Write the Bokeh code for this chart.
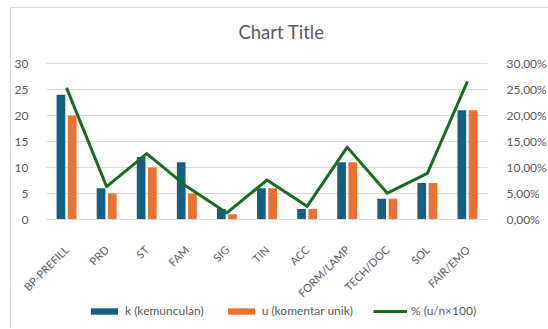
import math

from bokeh.core.properties import value
from bokeh.embed import file_html
from bokeh.models import (ColumnDataSource, CustomJSTickFormatter, FixedTicker,
                          Legend, LegendItem, LinearAxis, Range1d)
from bokeh.plotting import figure
from bokeh.resources import INLINE
from bokeh.transform import dodge

# --- data -------------------------------------------------------------------
categories = ["BP-PREFILL", "PRD", "ST", "FAM", "SIG", "TIN", "ACC",
              "FORM/LAMP", "TECH/DOC", "SOL", "FAIR/EMO"]
k_kemunculan = [24, 6, 12, 11, 2, 6, 2, 11, 4, 7, 21]
u_komentar_unik = [20, 5, 10, 5, 1, 6, 2, 11, 4, 7, 21]
persen_u_n = [25.32, 6.33, 12.66, 6.33, 1.27, 7.59, 2.53, 13.92, 5.06, 8.86, 26.58]

count_ticks = [0, 5, 10, 15, 20, 25, 30]
pct_ticks = [0, 5, 10, 15, 20, 25, 30]

title_text = "Chart Title"
legend_labels = ["k (kemunculan)", "u (komentar unik)", "% (u/n×100)"]

# --- style ------------------------------------------------------------------
FONT = "Lato"
TEXT_COLOR = "#595959"
GRID_COLOR = "#d9d9d9"
BLUE = "#156082"
ORANGE = "#E97132"
GREEN = "#196B24"

# --- geometry: the frame is the whole chart box; the plot area sits inside --
W, H = 538, 321                  # chart box size in px
AREA_L, AREA_R = 35, 476         # plot-area left/right, px from box left
AREA_T, AREA_B = 55, 211         # plot-area top/bottom, px from box top
n_cat = len(categories)
y_max = count_ticks[-1]
px_x = (AREA_R - AREA_L) / n_cat
px_y = (AREA_B - AREA_T) / y_max
x_range = Range1d(-AREA_L / px_x, (W - AREA_L) / px_x)
y_range = Range1d(-(H - AREA_B) / px_y, AREA_B / px_y)

xs = [i + 0.5 for i in range(n_cat)]
source = ColumnDataSource(dict(x=xs, cat=categories, k=k_kemunculan,
                               u=u_komentar_unik, pct=persen_u_n))

p = figure(
    x_range=x_range, y_range=y_range,
    x_axis_type=None, y_axis_type=None,
    width=W, height=H,
    margin=(7, 0, 0, 10),
    min_border=0,
    output_backend="svg", toolbar_location=None,
    background_fill_color="white", border_fill_color="white",
    styles={"border-left": "1px solid #d9d9d9",
            "border-top": "1px solid #d9d9d9"},
)
p.outline_line_color = None
p.xgrid.visible = False
p.ygrid.visible = False
p.extra_y_ranges = {"pct": Range1d(y_range.start, y_range.end)}

# horizontal gridlines across the plot area only
p.segment(x0=0, x1=n_cat, y0=count_ticks, y1=count_ticks,
          line_color=GRID_COLOR, line_width=1)

# left count axis
ya = LinearAxis(ticker=FixedTicker(ticks=count_ticks), fixed_location=0,
                bounds=(0, y_max))
ya.axis_line_color = None
ya.major_tick_line_color = None
ya.minor_tick_line_color = None
ya.major_label_standoff = 12
ya.major_label_text_color = TEXT_COLOR
ya.major_label_text_font = FONT
ya.major_label_text_font_size = "12px"
p.add_layout(ya, "left")

# right percentage axis
ra = LinearAxis(y_range_name="pct", ticker=FixedTicker(ticks=pct_ticks),
                fixed_location=n_cat, bounds=(0, y_max),
                formatter=CustomJSTickFormatter(
                    code="return tick.toFixed(2).replace('.', ',') + '%';"))
ra.axis_line_color = None
ra.major_tick_line_color = None
ra.minor_tick_line_color = None
ra.major_label_standoff = 13
ra.major_label_text_color = TEXT_COLOR
ra.major_label_text_font = FONT
ra.major_label_text_font_size = "12px"
p.add_layout(ra, "right")

# category axis
xa = LinearAxis(ticker=FixedTicker(ticks=xs), fixed_location=0,
                bounds=(0, n_cat),
                formatter=CustomJSTickFormatter(
                    args=dict(cats=categories),
                    code="return cats[Math.floor(tick)];"))
xa.axis_line_color = GRID_COLOR
xa.axis_line_width = 1
xa.major_tick_line_color = None
xa.minor_tick_line_color = None
xa.major_label_orientation = math.pi / 4
xa.major_label_standoff = 22
xa.major_label_text_color = TEXT_COLOR
xa.major_label_text_font = FONT
xa.major_label_text_font_size = "11px"
p.add_layout(xa, "below")

# bars
bar_w = 0.217
r_k = p.vbar(x=dodge("x", -0.14), top="k", width=bar_w,
             source=source, fill_color=BLUE, line_color=None)
r_u = p.vbar(x=dodge("x", 0.14), top="u", width=bar_w,
             source=source, fill_color=ORANGE, line_color=None)

# percentage line on the secondary range
r_p = p.line(x="x", y="pct", source=source, y_range_name="pct",
             line_color=GREEN, line_width=3, line_join="round")

# chart title
p.text(x=[5.86], y=[36.0], text=[title_text], text_align="center",
       text_baseline="middle", text_font=value(FONT),
       text_font_size="18.5px", text_color=TEXT_COLOR)

# legend along the bottom of the chart box
legend = Legend(
    items=[LegendItem(label=legend_labels[0], renderers=[r_k]),
           LegendItem(label=legend_labels[1], renderers=[r_u]),
           LegendItem(label=legend_labels[2], renderers=[r_p])],
    orientation="horizontal",
    location=(76, 11),
    glyph_width=34, glyph_height=8,
    label_standoff=4, spacing=20,
    padding=0, margin=0,
    label_height=15,
    label_text_font=FONT, label_text_font_size="12px",
    label_text_color=TEXT_COLOR,
    border_line_color=None, background_fill_alpha=0,
)
p.add_layout(legend)

open("out.html", "w").write(file_html(p, INLINE))
